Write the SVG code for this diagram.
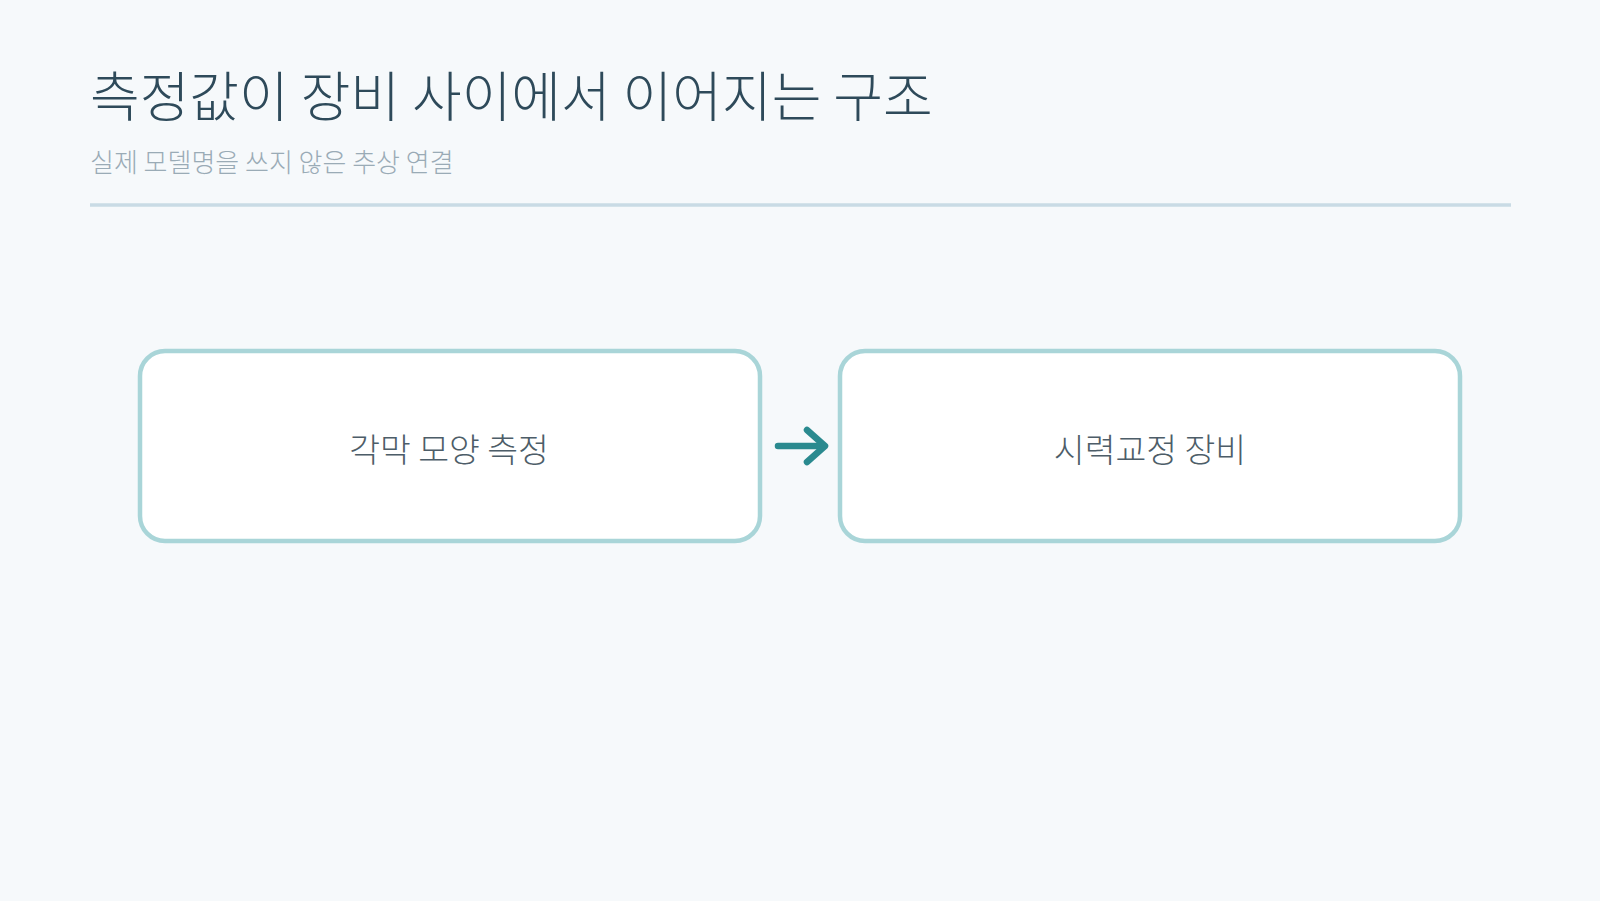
<svg xmlns="http://www.w3.org/2000/svg" width="1600" height="901" viewBox="0 0 1600 901">
  <defs>
    <style>
      .title { font-family: "Noto Sans CJK KR", "Noto Sans", sans-serif; font-weight: 300; font-size: 54px; fill: #2e4a5a; }
      .subtitle { font-family: "Noto Sans CJK KR", "Noto Sans", sans-serif; font-weight: 300; font-size: 26px; fill: #9aabb6; }
      .box { fill: #ffffff; stroke: #a9d5d8; stroke-width: 4.5; }
      .label { font-family: "Noto Sans CJK KR", "Noto Sans", sans-serif; font-weight: 300; font-size: 33.5px; fill: #4d5d68; text-anchor: middle; }
      .conn { fill: none; stroke: #2a8a8f; stroke-width: 6.5; stroke-linecap: round; stroke-linejoin: round; }
    </style>
  </defs>
  <rect width="1600" height="901" fill="#f6f9fb"/>
  <g id="header">
    <text class="title" x="90" y="117">측정값이 장비 사이에서 이어지는 구조</text>
    <text class="subtitle" x="90" y="172">실제 모델명을 쓰지 않은 추상 연결</text>
    <line x1="90" y1="205" x2="1511" y2="205" stroke="#c9dbe5" stroke-width="3.5"/>
  </g>
  <g id="node-cornea">
    <rect class="box" x="140" y="351" width="620" height="190" rx="25"/>
    <text class="label" x="449" y="462">각막 모양 측정</text>
  </g>
  <g id="node-device">
    <rect class="box" x="840" y="351" width="620" height="190" rx="25"/>
    <text class="label" x="1150" y="462">시력교정 장비</text>
  </g>
  <g id="connectors">
    <path class="conn" d="M778 446 H823"/>
    <path class="conn" d="M807 430 L825 446 L807 462"/>
  </g>
</svg>
